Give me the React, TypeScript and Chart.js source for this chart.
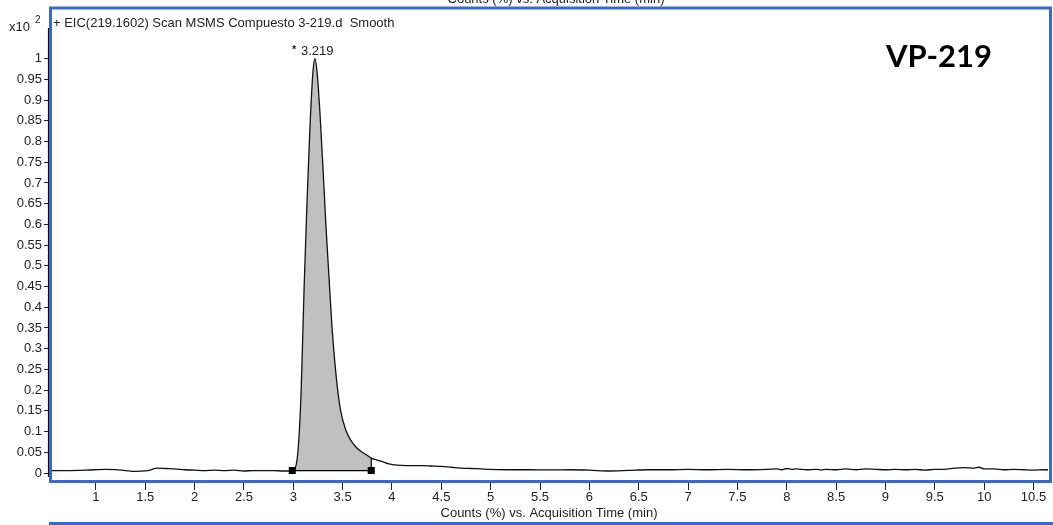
import React, { useEffect, useRef } from 'react';
import { Chart, registerables } from 'chart.js';

Chart.register(...registerables);

// Acquisition time (min)
const times = [
  0.54, 0.7, 0.9, 1.1, 1.2, 1.3, 1.4, 1.5, 1.55, 1.62, 1.7, 1.8, 1.9, 2.0, 2.1, 2.2, 2.3, 2.4, 2.5, 2.6,
  2.7, 2.8, 2.9, 2.95, 2.99, 3.02, 3.05, 3.08, 3.11, 3.14, 3.17, 3.2, 3.219, 3.24, 3.27, 3.3, 3.33, 3.36,
  3.39, 3.42, 3.45, 3.48, 3.53, 3.58, 3.63, 3.68, 3.74, 3.79, 3.84, 3.9, 3.97, 4.05, 4.15, 4.3, 4.4, 4.5,
  4.6, 4.7, 4.8, 4.9, 5.0, 5.2, 5.4, 5.6, 5.8, 6.0, 6.2, 6.4, 6.6, 6.8, 7.0, 7.2, 7.4, 7.6, 7.8, 7.9,
  7.95, 8.0, 8.05, 8.1, 8.2, 8.3, 8.35, 8.4, 8.5, 8.6, 8.7, 8.8, 8.9, 9.0, 9.1, 9.2, 9.3, 9.4, 9.5, 9.6,
  9.7, 9.8, 9.9, 9.95, 10.0, 10.1, 10.2, 10.3, 10.4, 10.5, 10.6, 10.65,
];
// Counts (x10^2)
const counts = [
  0.006, 0.006, 0.007, 0.009, 0.0085, 0.006, 0.004, 0.005, 0.007, 0.012, 0.011, 0.01, 0.008, 0.007, 0.006, 0.007, 0.006, 0.007, 0.005, 0.006,
  0.006, 0.006, 0.005, 0.005, 0.006, 0.012, 0.06, 0.2, 0.45, 0.66, 0.84, 0.97, 1.0, 0.97, 0.87, 0.74, 0.6, 0.48,
  0.36, 0.27, 0.2, 0.15, 0.105, 0.08, 0.064, 0.053, 0.044, 0.036, 0.032, 0.028, 0.022, 0.019, 0.018, 0.018, 0.017, 0.016,
  0.014, 0.012, 0.011, 0.01, 0.009, 0.008, 0.008, 0.0075, 0.008, 0.007, 0.005, 0.0065, 0.008, 0.008, 0.009, 0.008, 0.009, 0.008, 0.009, 0.01,
  0.008, 0.011, 0.009, 0.01, 0.008, 0.009, 0.007, 0.009, 0.008, 0.01, 0.008, 0.01, 0.009, 0.008, 0.009, 0.008, 0.009, 0.007, 0.009, 0.009,
  0.012, 0.013, 0.012, 0.014, 0.01, 0.01, 0.008, 0.009, 0.008, 0.007, 0.008, 0.008,
];

const xTickValues = [1, 1.5, 2, 2.5, 3, 3.5, 4, 4.5, 5, 5.5, 6, 6.5, 7, 7.5, 8, 8.5, 9, 9.5, 10, 10.5];
const xTickLabels = ['1', '1.5', '2', '2.5', '3', '3.5', '4', '4.5', '5', '5.5', '6', '6.5', '7', '7.5', '8', '8.5', '9', '9.5', '10', '10.5'];
const yTickValues = [0, 0.05, 0.1, 0.15, 0.2, 0.25, 0.3, 0.35, 0.4, 0.45, 0.5, 0.55, 0.6, 0.65, 0.7, 0.75, 0.8, 0.85, 0.9, 0.95, 1];
const yTickLabels = ['0', '0.05', '0.1', '0.15', '0.2', '0.25', '0.3', '0.35', '0.4', '0.45', '0.5', '0.55', '0.6', '0.65', '0.7', '0.75', '0.8', '0.85', '0.9', '0.95', '1'];

const peakApexTime = 3.219;
const peakApexCount = 1.0;
const peakLabel = '3.219';
const peakStart = 2.99;
const peakEnd = 3.79;
const baselineLevel = 0.006;
const peakEndCount = 0.036;

const traceTitle = '+ EIC(219.1602) Scan MSMS Compuesto 3-219.d  Smooth';
const xAxisTitle = 'Counts (%) vs. Acquisition Time (min)';
const sampleName = 'VP-219';

const X_MIN = 0.535;
const X_MAX = 10.647;
const Y_MIN = -0.0216;
const Y_MAX = 1.1178;

const BLUE = '#3A6BC4';
const FONT_FAMILY = '"Liberation Sans", Arial, sans-serif';
const TICK_FONT = { family: FONT_FAMILY, size: 13 };

export default function App() {
  const canvasRef = useRef<HTMLCanvasElement | null>(null);

  useEffect(() => {
    const canvas = canvasRef.current;
    if (!canvas) return;

    const trace = times.map((t, i) => ({ x: t, y: counts[i] }));
    const peakArea = trace.filter((p) => p.x >= peakStart && p.x <= peakEnd);
    const integrationBase = [
      { x: peakStart, y: baselineLevel },
      { x: peakEnd, y: baselineLevel },
    ];
    const dropLine = [
      { x: peakEnd, y: baselineLevel },
      { x: peakEnd, y: peakEndCount },
    ];

    const decorations = {
      id: 'decorations',
      afterDraw(chart: any) {
        const { ctx, chartArea, scales } = chart;
        const xs = scales.x;
        const ys = scales.y;
        ctx.save();

        // black y-axis line
        ctx.strokeStyle = '#111';
        ctx.lineWidth = 1.2;
        ctx.beginPath();
        ctx.moveTo(48.5, 28);
        ctx.lineTo(48.5, 477);
        ctx.stroke();

        // blue frame
        ctx.strokeStyle = BLUE;
        ctx.lineWidth = 3;
        ctx.beginPath();
        ctx.moveTo(49, 8);
        ctx.lineTo(1052, 8);
        ctx.moveTo(50.5, 8);
        ctx.lineTo(50.5, 482);
        ctx.moveTo(1050.5, 8);
        ctx.lineTo(1050.5, 482);
        ctx.moveTo(49, 481.5);
        ctx.lineTo(1052, 481.5);
        ctx.moveTo(49, 523.5);
        ctx.lineTo(1053, 523.5);
        ctx.stroke();

        ctx.fillStyle = '#222';
        ctx.textBaseline = 'alphabetic';
        // cut-off title of the pane above
        ctx.font = `13px ${FONT_FAMILY}`;
        ctx.textAlign = 'center';
        ctx.fillText(xAxisTitle, 556, 3);

        // x-axis title
        ctx.textBaseline = 'middle';
        ctx.fillText(xAxisTitle, (chartArea.left + chartArea.right) / 2, 513);

        // trace title
        ctx.textAlign = 'left';
        ctx.fillText(traceTitle, 53, 23);

        // x10^2
        ctx.fillText('x10', 9, 27);
        ctx.font = `10px ${FONT_FAMILY}`;
        ctx.fillText('2', 35, 20);

        // peak label
        const ax = xs.getPixelForValue(peakApexTime);
        const ay = ys.getPixelForValue(peakApexCount);
        ctx.font = `13px ${FONT_FAMILY}`;
        ctx.fillText(peakLabel, ax - 14, ay - 7);
        ctx.font = `bold 11px ${FONT_FAMILY}`;
        ctx.fillText('*', ax - 23, ay - 9);

        // sample name
        ctx.fillStyle = '#000';
        ctx.font = 'bold 31px Lato, "Open Sans", sans-serif';
        ctx.textAlign = 'center';
        ctx.fillText(sampleName, 939, 57);

        ctx.restore();
      },
    };

    const chart = new Chart(canvas, {
      type: 'line',
      data: {
        datasets: [
          {
            data: peakArea,
            borderWidth: 0,
            borderColor: 'rgba(0,0,0,0)',
            backgroundColor: '#C0C0C0',
            fill: { value: baselineLevel },
            pointRadius: 0,
            cubicInterpolationMode: 'monotone',
            order: 5,
          },
          {
            data: trace,
            borderColor: '#111',
            borderWidth: 1.3,
            pointRadius: 0,
            fill: false,
            cubicInterpolationMode: 'monotone',
            order: 2,
          },
          {
            data: integrationBase,
            borderColor: '#000',
            borderWidth: 1.2,
            pointStyle: 'rect',
            pointRadius: 5,
            pointBackgroundColor: '#000',
            pointBorderColor: '#000',
            pointBorderWidth: 0,
            fill: false,
            order: 1,
          },
          {
            data: dropLine,
            borderColor: '#000',
            borderWidth: 1.2,
            pointRadius: 0,
            fill: false,
            order: 1,
          },
        ],
      },
      options: {
        animation: false,
        responsive: false,
        maintainAspectRatio: false,
        layout: { padding: { top: 8, right: 3, left: 0, bottom: 0 } },
        plugins: {
          legend: { display: false },
          tooltip: { enabled: false },
          title: { display: false },
        },
        scales: {
          x: {
            type: 'linear',
            min: X_MIN,
            max: X_MAX,
            border: { display: false },
            grid: { drawOnChartArea: false, drawTicks: true, tickLength: 8, color: '#222', lineWidth: 1 },
            afterBuildTicks: (scale: any) => {
              scale.ticks = xTickValues.map((v) => ({ value: v }));
            },
            afterFit: (scale: any) => {
              scale.height = 43;
            },
            ticks: {
              autoSkip: false,
              maxRotation: 0,
              padding: 0,
              color: '#222',
              font: TICK_FONT,
              callback: (_v: any, i: number) => xTickLabels[i],
            },
          },
          y: {
            type: 'linear',
            min: Y_MIN,
            max: Y_MAX,
            border: { display: false },
            grid: { drawOnChartArea: false, drawTicks: true, tickLength: 6, color: '#222', lineWidth: 1 },
            afterBuildTicks: (scale: any) => {
              scale.ticks = yTickValues.map((v) => ({ value: v }));
            },
            afterFit: (scale: any) => {
              scale.width = 50;
            },
            ticks: {
              autoSkip: false,
              padding: 2,
              color: '#222',
              font: TICK_FONT,
              callback: (_v: any, i: number) => yTickLabels[i],
            },
          },
        },
      },
      plugins: [decorations],
    } as any);

    return () => chart.destroy();
  }, []);

  return (
    <div style={{ position: 'absolute', left: 0, top: 0, width: 1053, height: 525, background: '#fff' }}>
      <canvas ref={canvasRef} width={1053} height={525} style={{ display: 'block' }} />
    </div>
  );
}
